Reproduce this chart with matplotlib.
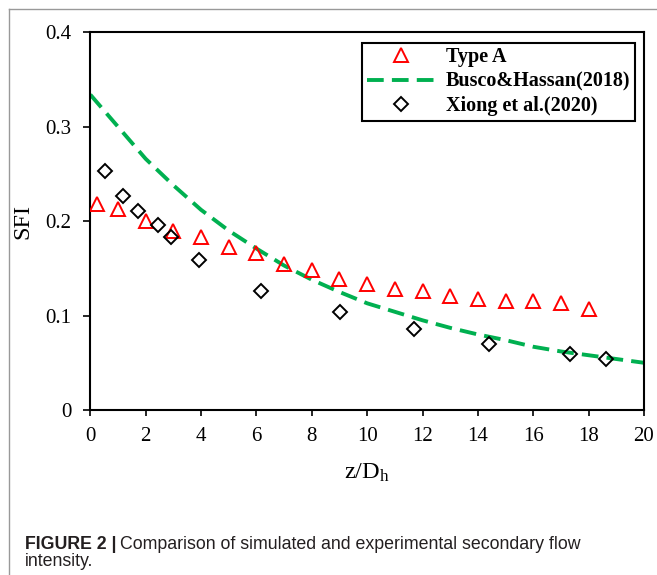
import matplotlib
matplotlib.use('Agg')
import matplotlib.pyplot as plt
from matplotlib.lines import Line2D

plt.rcParams['font.family'] = ['Liberation Serif', 'DejaVu Serif']
plt.rcParams['mathtext.fontset'] = 'custom'
plt.rcParams['mathtext.rm'] = 'Liberation Serif'
plt.rcParams['mathtext.it'] = 'Liberation Serif:italic'

# Type A (simulation)
type_a_x = [0.25, 1, 2, 3, 4, 5, 6, 7, 8, 9, 10, 11, 12, 13, 14, 15, 16, 17, 18]
type_a_y = [0.218, 0.213, 0.200, 0.190, 0.183, 0.173, 0.166, 0.155, 0.148, 0.139,
            0.133, 0.128, 0.126, 0.121, 0.118, 0.115, 0.115, 0.113, 0.107]

# Busco&Hassan(2018) correlation
busco_x = [0, 1, 2, 3, 4, 5, 6, 7, 8, 9, 10, 11, 12, 13, 14, 15, 16, 17, 18, 19, 20]
busco_y = [0.334, 0.300, 0.266, 0.238, 0.212, 0.190, 0.171, 0.153, 0.138, 0.125, 0.113,
           0.104, 0.095, 0.087, 0.080, 0.074, 0.067, 0.062, 0.058, 0.054, 0.050]

# Xiong et al.(2020) experiment
xiong_x = [0.54, 1.18, 1.72, 2.44, 2.90, 3.93, 6.15, 9.03, 11.68, 14.41, 17.32, 18.61]
xiong_y = [0.253, 0.227, 0.211, 0.196, 0.183, 0.159, 0.126, 0.104, 0.086, 0.070, 0.059, 0.054]

xticks = list(range(0, 21, 2))
yticks = [0, 0.1, 0.2, 0.3, 0.4]
ytick_labels = ['0', '0.1', '0.2', '0.3', '0.4']

W, H = 657, 575
fig = plt.figure(figsize=(W / 100, H / 100), dpi=100)
ax = fig.add_axes([90.3 / W, 1 - 410 / H, (644 - 90.3) / W, (410 - 32.3) / H])

ax.plot(busco_x, busco_y, color='#00b050', lw=2.8, dashes=(4.3, 2.1),
        label='Busco&Hassan(2018)', zorder=2)
ax.plot(type_a_x, type_a_y, ls='none', marker='^', ms=10, mfc='none', mec='red',
        mew=1.4, label='Type A', zorder=3)
ax.plot(xiong_x, xiong_y, ls='none', marker='D', ms=7, mfc='none', mec='black',
        mew=1.4, label='Xiong et al.(2020)', zorder=4)

ax.set_xlim(0, 20)
ax.set_ylim(0, 0.4)
ax.set_xticks(xticks)
ax.set_yticks(yticks)
ax.set_yticklabels(ytick_labels)
for s in ax.spines.values():
    s.set_linewidth(1.5)
ax.tick_params(axis='x', direction='out', length=4.5, width=1.2, labelsize=15, pad=8)
ax.tick_params(axis='y', direction='out', length=5, width=1.2, labelsize=15, pad=8.5)

ax.set_xlabel(r'z/D$_{\mathrm{h}}$', fontsize=17.5, labelpad=11)
ax.set_ylabel('SFI', fontsize=17.5, labelpad=9)

handles, labels = ax.get_legend_handles_labels()
order = [1, 0, 2]
leg = ax.legend([handles[i] for i in order], [labels[i] for i in order],
                loc='upper right', bbox_to_anchor=(635 / W, 1 - 43 / H),
                bbox_transform=fig.transFigure, borderaxespad=0,
                prop={'weight': 'bold', 'size': 14.5}, handlelength=3.4,
                handletextpad=0.55, borderpad=0.22, labelspacing=0.22,
                fancybox=False, framealpha=1, edgecolor='black')
leg.get_frame().set_linewidth(1.5)

# page frame lines (left and top)
fig.add_artist(Line2D([9 / W, 9 / W], [0, 1 - 9 / H], transform=fig.transFigure,
                      color='#999999', lw=1))
fig.add_artist(Line2D([9 / W, 1], [1 - 9 / H, 1 - 9 / H], transform=fig.transFigure,
                      color='#999999', lw=1))

# caption: bold lead-in, then regular text right after it
cap_font = ['Liberation Sans', 'DejaVu Sans']
cap_size = 12.8
bold = fig.text(24.7 / W, 1 - 549 / H, 'FIGURE 2 |', family=cap_font, weight='bold',
                fontsize=cap_size, va='baseline', ha='left', color='#231f20')
renderer = fig.canvas.get_renderer()
bx = bold.get_window_extent(renderer).x1
fig.text((bx + 4) / W, 1 - 549 / H, 'Comparison of simulated and experimental secondary flow',
         family=cap_font, fontsize=cap_size, va='baseline', ha='left', color='#231f20')
fig.text(24.7 / W, 1 - 566 / H, 'intensity.', family=cap_font, fontsize=cap_size,
         va='baseline', ha='left', color='#231f20')

fig.savefig('out.png', dpi=100)
